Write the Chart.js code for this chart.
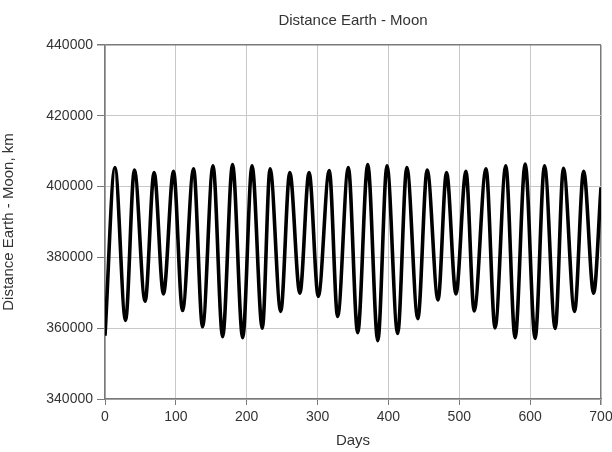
<!DOCTYPE html>
<html>
<head>
<meta charset="utf-8">
<script src="https://cdn.jsdelivr.net/npm/chart.js@4/dist/chart.umd.min.js"></script>
<style>
  body { margin: 0; background: #fff; }
  canvas { display: block; }
</style>
</head>
<body>
<canvas id="chart" width="612" height="452"></canvas>
<script>
// extrema of the curve (day, km)
const days = [0, 14, 29, 41.5, 56.6, 69.3, 82.5, 96.7, 109.4, 125,
  137.7, 152.4, 166, 180, 194.3, 207.5, 222, 233, 248, 260.8,
  275, 288, 301, 316.5, 328.3, 343.4, 356.6, 370.8, 385, 398,
  413, 426, 441.5, 454.7, 470, 482, 495.3, 509.4, 521, 537.7,
  550.5, 565.6, 578.8, 593, 607, 620.3, 635.4, 647, 662.7, 675.5,
  689.6, 700]
const distance = [357900, 405400, 362200, 404700, 367600, 404000, 369700, 404300, 365000, 405000,
  360400, 405900, 357600, 406200, 357300, 405900, 360000, 405000, 364750, 404000,
  369900, 404000, 369000, 404500, 363300, 405400, 358700, 406200, 356500, 405900,
  358500, 405400, 362700, 404700, 368000, 404000, 369700, 404300, 364900, 405000,
  360100, 405900, 357300, 406400, 357100, 405900, 359900, 405200, 364750, 404300,
  369900, 399800]
const xTicks = [0, 100, 200, 300, 400, 500, 600, 700]
const yTicks = [340000, 360000, 380000, 400000, 420000, 440000]

const points = days.map((d, i) => ({x: d, y: distance[i]}))

const font = 'Liberation Sans, Arial, sans-serif'
const gridLight = '#c8c8c8'
const frame = '#7a7a7a'

new Chart(document.getElementById('chart'), {
  type: 'line',
  data: {
    datasets: [{
      data: points,
      borderColor: '#000',
      borderWidth: 3.6,
      pointRadius: 0,
      tension: 0.4,
      cubicInterpolationMode: 'monotone',
      fill: false
    }]
  },
  options: {
    responsive: false,
    animation: false,
    devicePixelRatio: 1,
    layout: { padding: {left: 0, top: 0, bottom: 0, right: 11} },
    plugins: {
      legend: { display: false },
      tooltip: { enabled: false }
    },
    scales: {
      x: {
        type: 'linear',
        position: 'bottom',
        min: xTicks[0],
        max: xTicks[xTicks.length - 1],
        afterBuildTicks: s => { s.ticks = xTicks.map(v => ({value: v})) },
        afterFit: s => { s.height = 53; s.paddingLeft = 0; s.paddingRight = 0 },
        ticks: { font: {family: font, size: 14}, color: '#333', padding: 4, maxRotation: 0 },
        grid: {
          color: c => (c.tick && c.tick.value === 700) ? frame : gridLight,
          lineWidth: c => (c.tick && c.tick.value === 700) ? 1.5 : 1,
          tickColor: frame,
          tickLength: 6
        },
        border: { color: frame, width: 1.5 },
        title: { display: true, text: 'Days', font: {family: font, size: 15}, color: '#333', padding: {top: 0, bottom: 2} }
      },
      top: {
        type: 'linear',
        position: 'top',
        afterFit: s => { s.height = 45; s.paddingLeft = 0; s.paddingRight = 0 },
        ticks: { display: false },
        grid: { display: false },
        border: { display: false },
        title: { display: true, text: 'Distance Earth - Moon', font: {family: font, size: 15}, color: '#333', padding: {top: 12, bottom: 0} }
      },
      y: {
        type: 'linear',
        min: yTicks[0],
        max: yTicks[yTicks.length - 1],
        afterBuildTicks: s => { s.ticks = yTicks.map(v => ({value: v})) },
        afterFit: s => { s.width = 105 },
        ticks: { font: {family: font, size: 14}, color: '#333', padding: 4, callback: v => String(v) },
        grid: {
          color: c => (c.tick && c.tick.value === 440000) ? frame : gridLight,
          lineWidth: c => (c.tick && c.tick.value === 440000) ? 1.5 : 1,
          tickColor: frame,
          tickLength: 8
        },
        border: { color: frame, width: 1.5 },
        title: { display: true, text: 'Distance Earth - Moon, km', font: {family: font, size: 15}, color: '#333', padding: {top: 0, bottom: 0} }
      }
    }
  }
})
</script>
</body>
</html>
